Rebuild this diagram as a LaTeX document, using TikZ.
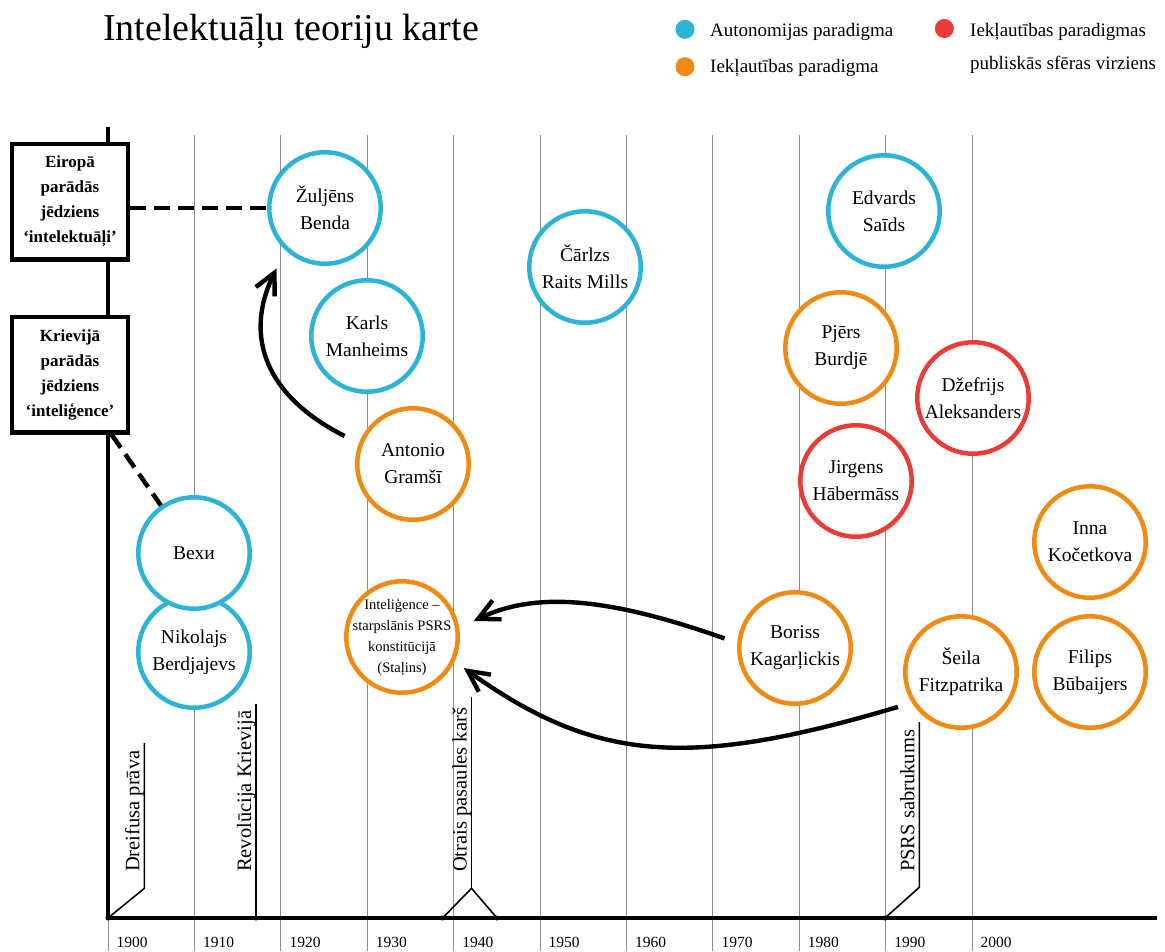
\documentclass[tikz,border=0pt]{standalone}
\usepackage{fontspec}
\setmainfont{Liberation Serif}
\usetikzlibrary{arrows.meta}
\definecolor{cblue}{HTML}{2BB4D8}
\definecolor{corange}{HTML}{F08A12}
\definecolor{cred}{HTML}{EB3B36}
\begin{document}
\begin{tikzpicture}[x=1pt,y=-1pt,
  person/.style={circle,draw=#1,line width=4.5pt,fill=white,minimum size=111.5pt,inner sep=0pt,align=center,font=\fontsize{19.5}{27}\selectfont},
  conceptbox/.style={draw,line width=4.2pt,fill=white,minimum width=115.5pt,minimum height=115.5pt,inner sep=0pt,align=center,font=\bfseries\fontsize{17}{25}\selectfont},
  gridline/.style={draw=black!45,line width=0.9pt},
  axisline/.style={line width=3.2pt},
  eventline/.style={line width=1.6pt},
  evtext/.style={rotate=90,anchor=base west,inner sep=0pt,font=\fontsize{20.5}{22}\selectfont},
  yeartext/.style={anchor=base west,inner sep=0pt,font=\fontsize{15.5}{16}\selectfont},
  dashlink/.style={line width=4.5pt,dash pattern=on 16pt off 8pt},
  bigarrow/.style={line width=4.4pt,-{Straight Barb[length=21pt,width=21pt]}},
  legdot/.style={circle,fill=#1,minimum size=19pt,inner sep=0pt},
  legtext/.style={anchor=base west,inner sep=0pt,font=\fontsize{19}{33}\selectfont},
  evdot/.style={circle,fill=black,minimum size=5pt,inner sep=0pt}
]
\useasboundingbox (0,0) rectangle (1165,951);

% grid lines
\foreach \k in {1,...,10} \draw[gridline] ({108+86.4*\k},135) -- ({108+86.4*\k},951);
\draw[gridline] (108,918) -- (108,951);

% year labels
\foreach \k/\yr in {0/1900,1/1910,2/1920,3/1930,4/1940,5/1950,6/1960,7/1970,8/1980,9/1990,10/2000}
  \node[yeartext] (y\yr) at ({116.5+86.4*\k},947.5) {\yr};

% axes
\draw[axisline] (108,127) -- (108,918) -- (1157,918);

% events
\draw[eventline] (108,918) -- (144.4,888.3) -- (144.4,743);
\draw[eventline] (256,918) -- (256,704);
\draw[eventline] (442.6,918) -- (471.5,888.3) -- (497,918);
\draw[eventline] (471.5,888.3) -- (471.5,697);
\draw[eventline] (885,918) -- (919.3,887.3) -- (919.3,722);
\node[evdot] (d1) at (108,918) {};
\node[evdot] (d2) at (256,918) {};
\node[evdot] (d3) at (442.6,918) {};
\node[evdot] (d4) at (497,918) {};
\node[evdot] (d5) at (885,918) {};
\node[evtext] (dreyfus) at (139.4,872) {Dreifusa prāva};
\node[evtext] (revol) at (251,872) {Revolūcija Krievijā};
\node[evtext] (ww2) at (466.5,872) {Otrais pasaules karš};
\node[evtext] (ussr) at (914.3,872) {PSRS sabrukums};

% title and legend
\node[anchor=base west,inner sep=0pt,font=\fontsize{38}{40}\selectfont] (title) at (103,40) {Intelektuāļu teoriju karte};
\node[legdot=cblue] (ld1) at (685,29.3) {};
\node[legdot=corange] (ld2) at (685,66.7) {};
\node[legdot=cred] (ld3) at (944.3,28.5) {};
\node[legtext] (lt1) at (710,36) {Autonomijas paradigma};
\node[legtext] (lt2) at (710,72) {Iekļautības paradigma};
\node[legtext] (lt3) at (970,36) {Iekļautības paradigmas};
\node[legtext] (lt4) at (970,69) {publiskās sfēras virziens};

% concept boxes
\node[conceptbox] (eiropa) at (70,201.7) {Eiropā\\parādās\\jēdziens\\‘intelektuāļi’};
\node[conceptbox] (krievija) at (70,374.7) {Krievijā\\parādās\\jēdziens\\‘inteliģence’};

% people
\node[person=cblue] (zuljens) at (325,208) {Žuljēns\\Benda};
\node[person=cblue] (karls) at (367,336) {Karls\\Manheims};
\node[person=corange] (gramsi) at (413,464) {Antonio\\Gramšī};
\node[person=cblue] (mills) at (585,267) {Čārlzs\\Raits Mills};
\node[person=cblue] (said) at (884,211) {Edvards\\Saīds};
\node[person=corange] (burdje) at (841,348) {Pjērs\\Burdjē};
\node[person=cred] (aleks) at (973,398) {Džefrijs\\Aleksanders};
\node[person=cred] (haber) at (856,481) {Jirgens\\Hābermāss};
\node[person=corange] (inna) at (1090,542) {Inna\\Kočetkova};
\node[person=corange] (filips) at (1090,672) {Filips\\Būbaijers};
\node[person=corange] (seila) at (961,672) {Šeila\\Fitzpatrika};
\node[person=corange] (boriss) at (795,648) {Boriss\\Kagarļickis};
\node[person=cblue] (berd) at (194,652) {Nikolajs\\Berdjajevs};
\node[person=cblue] (vehi) at (194,553) {Вехи};
\node[person=corange] (intel) at (402,637) {};
\node[align=center,font=\fontsize{14.5}{21}\selectfont,inner sep=0pt] (intelt) at (intel) {Inteliģence –\\starpslānis PSRS\\konstitūcijā\\(Staļins)};

% connectors
\draw[dashlink] (eiropa.east |- zuljens.west) -- (zuljens.west);
\draw[dashlink] (krievija) -- (vehi);
\draw[bigarrow,shorten <=16pt,shorten >=20pt] (gramsi.159) .. controls (266.9,396.8) and (242.8,337.4) .. (zuljens.227);
\draw[bigarrow,shorten <=13.5pt,shorten >=16pt] (boriss.175) .. controls (604.4,596) and (533.8,592.2) .. (intel.9);
\draw[bigarrow,shorten <=14.5pt,shorten >=11.3pt] (seila.212) .. controls (687,769.8) and (594.7,761.5) .. (intel.335);
\end{tikzpicture}
\end{document}
